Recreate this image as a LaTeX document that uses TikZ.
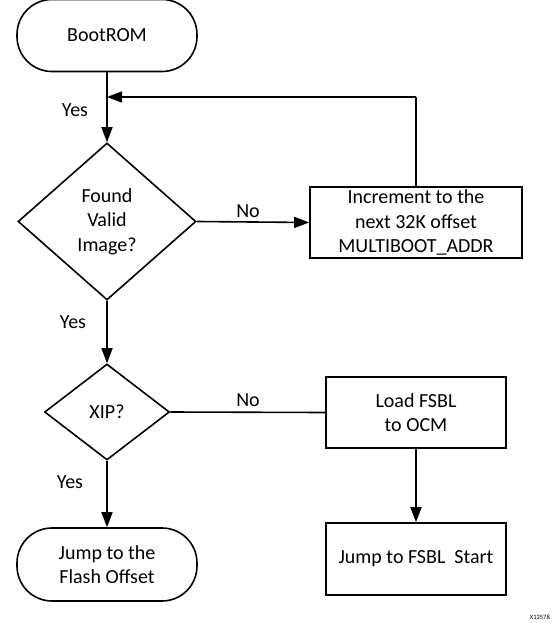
\documentclass[tikz,border=0pt]{standalone}
\usepackage{fontspec}
\setmainfont{Carlito}
\usetikzlibrary{shapes.geometric,arrows.meta}
\begin{document}
\begin{tikzpicture}[x=1pt,y=-1pt,
  every node/.style={font=\fontsize{20}{24.5}\selectfont},
  term/.style={draw,line width=1.6pt,rounded corners=35pt,minimum width=180pt,minimum height=72pt,align=center,inner sep=0pt},
  dec/.style={draw,line width=1.6pt,diamond,inner sep=0pt,align=center},
  proc/.style={draw,line width=1.6pt,minimum width=180pt,minimum height=71pt,align=center,inner sep=0pt},
  conn/.style={line width=1.6pt},
  arr/.style={conn,-{Triangle[width=11pt,length=15pt]}},
  lbl/.style={inner sep=0pt}]
\useasboundingbox (0,0) rectangle (552,623);
\node[term] (boot) at (107,35.5) {BootROM};
\node[dec,minimum width=178pt,minimum height=157pt] (valid) at (107,221.5) {Found\\Valid\\Image?};
\node[proc,minimum width=212pt,minimum height=71pt] (inc) at (416,222.5) {Increment to the\\next 32K offset\\MULTIBOOT\_ADDR};
\node[dec,minimum width=125pt,minimum height=96pt] (xip) at (107,412) {XIP?};
\node[proc] (load) at (416,412.5) {Load FSBL\\to OCM};
\node[proc,minimum height=72pt] (start) at (416,559) {Jump to FSBL\ \ Start};
\node[term,minimum height=73pt] (flash) at (107,564.5) {Jump to the\\Flash Offset};
\coordinate (fb) at (416,97);
\coordinate (fbin) at (107,97);
\draw[arr] (boot.south) -- (valid.north);
\draw[conn] (inc.north) -- (fb);
\draw[arr] (fb) -- (fbin);
\draw[arr] (valid.east) -- (inc.west);
\draw[arr] (valid.south) -- (xip.north);
\draw[conn] (xip.east) -- (load.west);
\draw[arr] (load.south) -- (start.north);
\draw[arr] (xip.south) -- (flash.north);
\node[lbl] (y1) at (75,110) {Yes};
\node[lbl] (n1) at (248,211) {No};
\node[lbl] (y2) at (73,322) {Yes};
\node[lbl] (n2) at (248,400) {No};
\node[lbl] (y3) at (70,482) {Yes};
\node[lbl,anchor=east,font=\fontsize{6.5}{7}\selectfont] (code) at (550,617) {X12578};
\end{tikzpicture}
\end{document}
